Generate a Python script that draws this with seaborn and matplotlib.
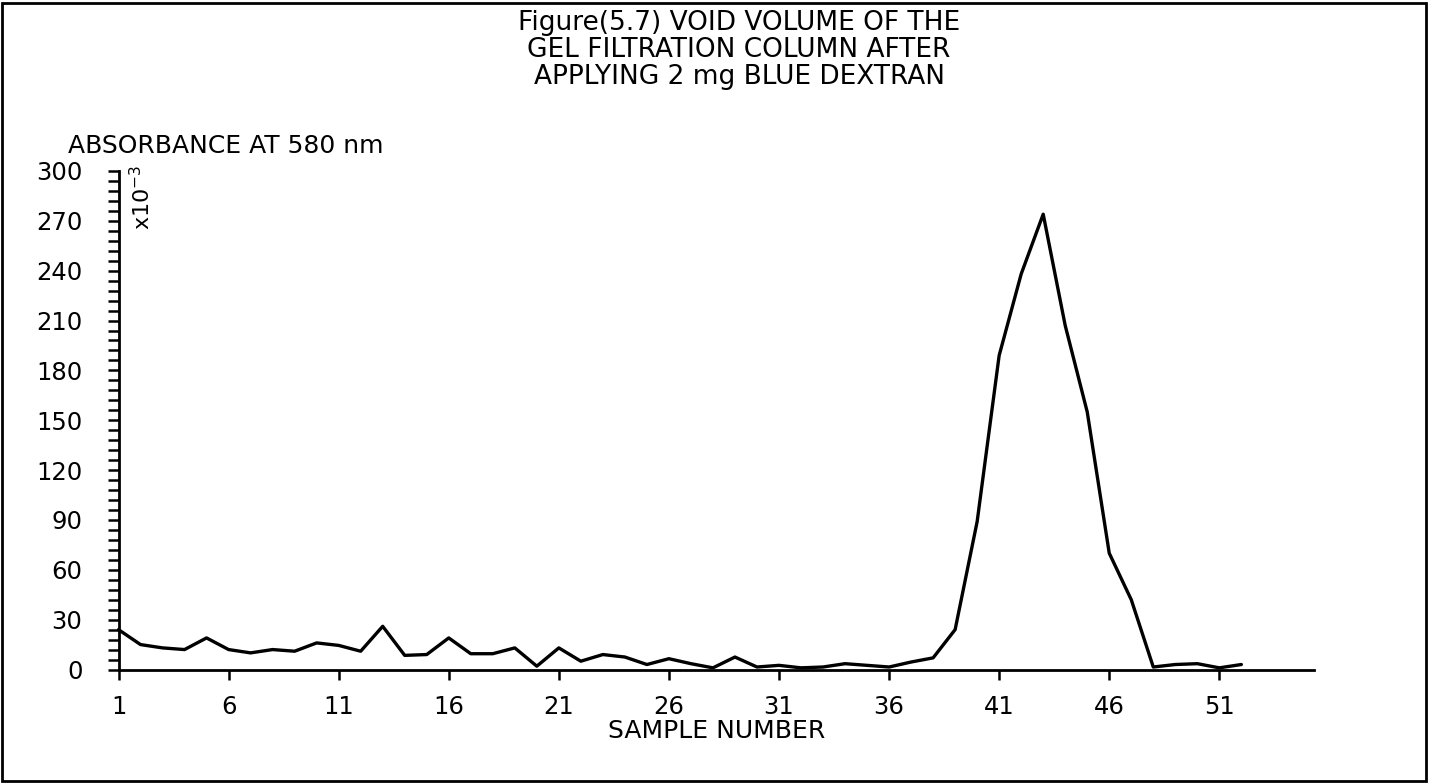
import matplotlib
matplotlib.use("Agg")
import matplotlib.pyplot as plt
import seaborn as sns
import pandas as pd
from matplotlib.patches import Rectangle
from matplotlib.ticker import MultipleLocator

# sample numbers and absorbance (x10^-3)
samples = list(range(1, 53))
absorbance = [24, 15, 13, 12, 19, 12, 10, 12, 11, 16,
              14.5, 11, 26, 8.5, 9, 19, 9.5, 9.5, 13, 2,
              13, 5, 9, 7.5, 3, 6.5, 3.5, 1, 7.5, 1.5,
              2.5, 1, 1.5, 3.5, 2.5, 1.5, 4.5, 7, 24, 89,
              189, 238, 274, 207, 155, 70, 42, 1.5, 3, 3.5,
              1, 3]
x_ticks = [1, 6, 11, 16, 21, 26, 31, 36, 41, 46, 51]
y_ticks = [0, 30, 60, 90, 120, 150, 180, 210, 240, 270, 300]

title_lines = ["Figure(5.7) VOID VOLUME OF THE",
               "GEL FILTRATION COLUMN AFTER",
               "APPLYING 2 mg BLUE DEXTRAN"]

df = pd.DataFrame({"sample": samples, "absorbance": absorbance})

sns.set_style("ticks")
plt.rcParams['font.family'] = ['DejaVu Sans']
plt.rcParams.update({"text.color": "black", "axes.labelcolor": "black",
                     "xtick.color": "black", "ytick.color": "black",
                     "axes.edgecolor": "black"})

W, H = 1429, 783
fig = plt.figure(figsize=(W / 100, H / 100), dpi=100)
ax = fig.add_axes([118.5 / W, 1 - 669.5 / H, (1314 - 118.5) / W, (669.5 - 171) / H])

sns.lineplot(data=df, x="sample", y="absorbance", ax=ax, color="black",
             linewidth=2.4, clip_on=False)

ax.set_xlim(1, 55.3)
ax.set_ylim(0, 300)
ax.set_xticks(x_ticks)
ax.set_yticks(y_ticks)
ax.yaxis.set_minor_locator(MultipleLocator(6))
ax.tick_params(axis="x", direction="out", length=7, width=1.8, pad=11, labelsize=17.5)
ax.tick_params(axis="y", which="both", direction="out", length=8, width=1.8, pad=18, labelsize=17.5)
ax.tick_params(axis="y", which="minor", labelleft=False)

for side in ["top", "right"]:
    ax.spines[side].set_visible(False)
for side in ["left", "bottom"]:
    ax.spines[side].set_linewidth(2)

ax.set_xlabel("SAMPLE NUMBER", fontsize=18, labelpad=0)
ax.set_ylabel("")

# axis caption above the y axis and the scale factor
fig.text(68 / W, 1 - 146 / H, "ABSORBANCE AT 580 nm", fontsize=18,
         ha="left", va="center")
fig.text(142 / W, 1 - 197 / H, r"x$10^{-3}$", fontsize=16, rotation=90,
         ha="center", va="center")

fig.text(739 / W, 1 - 10 / H, "\n".join(title_lines), fontsize=19,
         ha="center", va="top", linespacing=1.06)

# frame round the whole figure
fig.patches.append(Rectangle((1.5 / W, 2 / H), (1426 - 1.5) / W, (780 - 2) / H,
                             transform=fig.transFigure, fill=False,
                             edgecolor="black", linewidth=2))

fig.savefig("out.png", dpi=100)
